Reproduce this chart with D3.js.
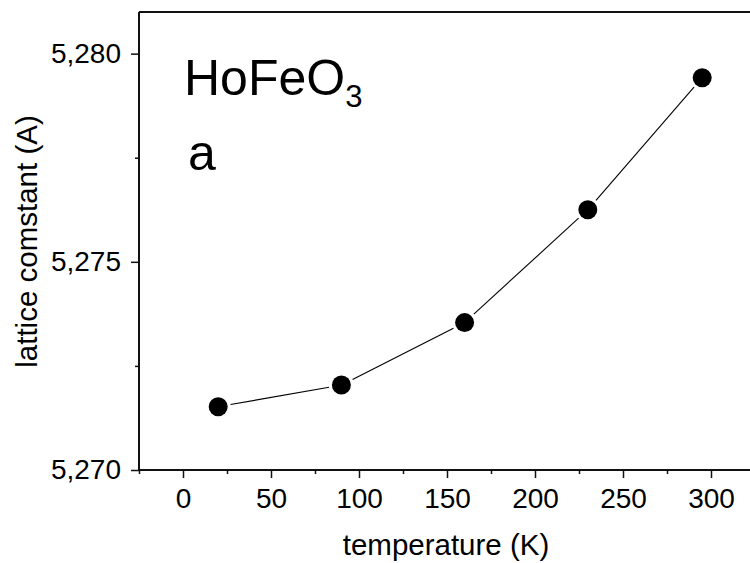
<!DOCTYPE html>
<html><head><meta charset="utf-8">
<script src="https://cdn.jsdelivr.net/npm/d3@7"></script>
<style>html,body{margin:0;padding:0;background:#fff;}svg{display:block;font-family:"Liberation Sans",Arial,sans-serif;}</style>
</head><body>
<script>
const temperature = [20, 90, 160, 230, 295];
const latticeA = [5.27152, 5.27204, 5.27354, 5.27625, 5.27942];
const xMajorTicks = [0, 50, 100, 150, 200, 250, 300];
const xMinorTicks = [-25, 25, 75, 125, 175, 225, 275, 325];
const yMajorTicks = [5.270, 5.275, 5.280];
const yMinorTicks = [5.2725, 5.2775];
const xDomain = [-25, 325];
const yDomain = [5.270, 5.281];

const W = 750, H = 563;
const svg = d3.select("body").append("svg").attr("width", W).attr("height", H);
const x = d3.scaleLinear().domain(xDomain).range([139, 755]);
const y = d3.scaleLinear().domain(yDomain).range([470, 12]);
const fmt = v => d3.format(".3f")(v).replace(".", ",");

// frame top
svg.append("line").attr("x1", x(xDomain[0])).attr("x2", x(xDomain[1]))
  .attr("y1", y(yDomain[1])).attr("y2", y(yDomain[1]))
  .attr("stroke", "#111").attr("stroke-width", 2);

// x axis
const gx = svg.append("g").attr("transform", `translate(0,${y(yDomain[0])})`)
  .call(d3.axisBottom(x).tickValues(xMajorTicks).tickSize(8).tickPadding(10).tickFormat(d3.format("d")));
gx.append("g").call(d3.axisBottom(x).tickValues(xMinorTicks).tickSize(4).tickFormat(""));
// y axis
const gy = svg.append("g").attr("transform", `translate(${x(xDomain[0])},0)`)
  .call(d3.axisLeft(y).tickValues(yMajorTicks).tickSize(8).tickPadding(10).tickFormat(fmt));
gy.append("g").call(d3.axisLeft(y).tickValues(yMinorTicks).tickSize(4).tickFormat(""));

svg.selectAll(".domain").attr("stroke", "#111").attr("stroke-width", 2);
svg.selectAll(".tick line").attr("stroke", "#111").attr("stroke-width", 1.5);
svg.selectAll(".tick text").attr("font-size", 28).attr("fill", "#000")
  .attr("font-family", '"Liberation Sans",Arial,sans-serif');
gy.selectAll(".domain").attr("d", `M0,${y(yDomain[1])}V${y(yDomain[0])}`);
gx.selectAll(".domain").attr("d", `M${x(xDomain[0])},0H${x(xDomain[1])}`);

// connecting line segments with gaps
const pts = temperature.map((t, i) => [x(t), y(latticeA[i])]);
const r = 9.5, gap = 3;
for (let i = 0; i < pts.length - 1; i++) {
  const [x1, y1] = pts[i], [x2, y2] = pts[i + 1];
  const dx = x2 - x1, dy = y2 - y1, L = Math.hypot(dx, dy);
  const s = (r + gap) / L;
  svg.append("line")
    .attr("x1", x1 + dx * s).attr("y1", y1 + dy * s)
    .attr("x2", x2 - dx * s).attr("y2", y2 - dy * s)
    .attr("stroke", "#000").attr("stroke-width", 1.1);
}
svg.selectAll("circle.pt").data(pts).join("circle").attr("class", "pt")
  .attr("cx", d => d[0]).attr("cy", d => d[1]).attr("r", r).attr("fill", "#000");

// annotations
const t1 = svg.append("text").attr("x", 184).attr("y", 95).attr("font-size", 50).attr("fill", "#000");
t1.append("tspan").text("HoFeO");
t1.append("tspan").attr("font-size", 31).attr("dy", 12).text("3");
svg.append("text").attr("x", 188).attr("y", 170).attr("font-size", 50).attr("fill", "#000").text("a");

// axis titles
svg.append("text").attr("x", 446).attr("y", 555).attr("text-anchor", "middle")
  .attr("font-size", 29.5).attr("fill", "#000").text("temperature (K)");
svg.append("text").attr("transform", "translate(37,241.5) rotate(-90)").attr("text-anchor", "middle")
  .attr("font-size", 29.5).attr("fill", "#000").text("lattice comstant (A)");
</script>
</body></html>
